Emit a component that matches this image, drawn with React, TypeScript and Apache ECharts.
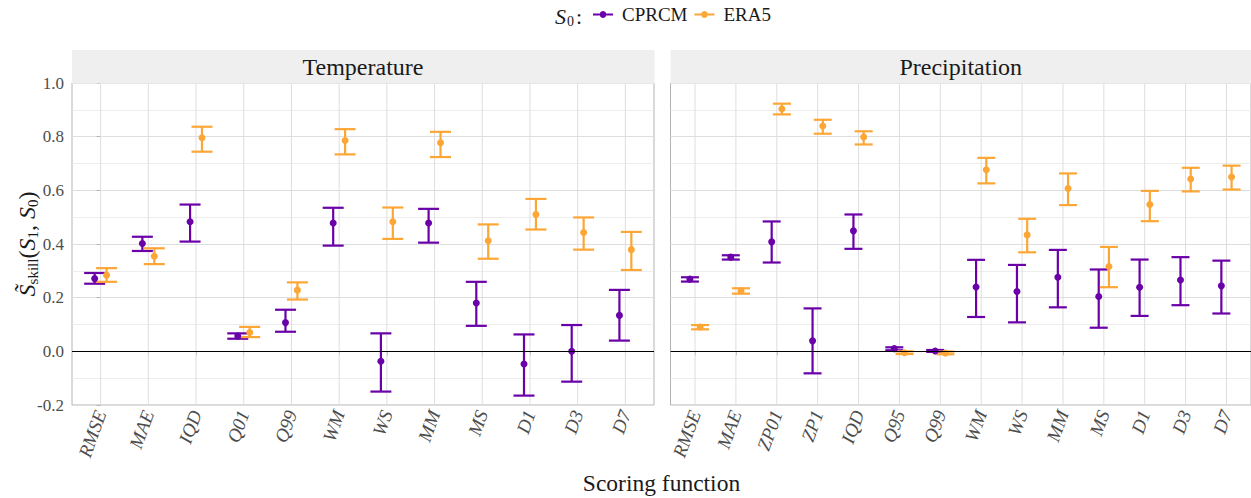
import React, { useEffect, useRef } from "react";
import * as echarts from "echarts";

const tempCats = ["RMSE", "MAE", "IQD", "Q01", "Q99", "WM", "WS", "MM", "MS", "D1", "D3", "D7"];
const precCats = ["RMSE", "MAE", "ZP01", "ZP1", "IQD", "Q95", "Q99", "WM", "WS", "MM", "MS", "D1", "D3", "D7"];

const tempCprcmMid = [0.271, 0.402, 0.483, 0.057, 0.107, 0.478, -0.037, 0.478, 0.18, -0.047, 0.0, 0.134];
const tempCprcmLo = [0.252, 0.374, 0.409, 0.047, 0.073, 0.394, -0.15, 0.405, 0.095, -0.165, -0.113, 0.04];
const tempCprcmHi = [0.292, 0.427, 0.547, 0.067, 0.155, 0.535, 0.067, 0.531, 0.259, 0.063, 0.098, 0.229];
const tempEra5Mid = [0.284, 0.354, 0.796, 0.07, 0.228, 0.786, 0.483, 0.777, 0.412, 0.51, 0.443, 0.379];
const tempEra5Lo = [0.259, 0.325, 0.744, 0.053, 0.193, 0.734, 0.419, 0.724, 0.345, 0.454, 0.379, 0.303];
const tempEra5Hi = [0.31, 0.384, 0.837, 0.091, 0.257, 0.828, 0.536, 0.818, 0.473, 0.568, 0.499, 0.445];

const precCprcmMid = [0.269, 0.351, 0.408, 0.039, 0.449, 0.01, 0.001, 0.24, 0.223, 0.276, 0.204, 0.239, 0.266, 0.244];
const precCprcmLo = [0.26, 0.342, 0.331, -0.082, 0.382, 0.004, -0.002, 0.128, 0.108, 0.164, 0.088, 0.132, 0.172, 0.141];
const precCprcmHi = [0.276, 0.358, 0.484, 0.16, 0.51, 0.015, 0.005, 0.341, 0.322, 0.378, 0.305, 0.342, 0.351, 0.338];
const precEra5Mid = [0.091, 0.225, 0.903, 0.84, 0.799, -0.005, -0.006, 0.677, 0.434, 0.607, 0.316, 0.547, 0.642, 0.65];
const precEra5Lo = [0.082, 0.215, 0.883, 0.811, 0.771, -0.01, -0.011, 0.626, 0.369, 0.545, 0.239, 0.485, 0.596, 0.603];
const precEra5Hi = [0.098, 0.235, 0.923, 0.863, 0.82, 0.0, -0.001, 0.721, 0.494, 0.663, 0.389, 0.598, 0.684, 0.692];

const panelTitles = ["Temperature", "Precipitation"];
const seriesNames = ["CPRCM", "ERA5"];
const yMin = -0.2;
const yMax = 1.0;
const yStep = 0.2;

const PURPLE = "#6A00A8";
const ORANGE = "#FCA636";
const FONT = "Liberation Serif";
const DODGE = 0.125;
const CAP = 0.22;

const LEGEND_ICON =
  "path://M0,3.1 L6.6,3.1 L6.6,4.9 L0,4.9 Z M13.4,3.1 L20,3.1 L20,4.9 L13.4,4.9 Z M10,0.6 A3.4,3.4 0 1 1 9.99,0.6 Z M24,0.6 L24,0.6 Z";

function errSeries(name: string, color: string, cats: string[], lo: number[], hi: number[], off: number, gi: number) {
  return {
    type: "custom",
    name,
    xAxisIndex: gi,
    yAxisIndex: gi,
    z: 3,
    itemStyle: { color },
    data: cats.map((_, i) => [i + off, lo[i], hi[i]]),
    encode: { x: 0, y: [1, 2] },
    renderItem: (_params: any, api: any) => {
      const x = api.value(0);
      const l = api.value(1);
      const h = api.value(2);
      const top = api.coord([x, h]);
      const bot = api.coord([x, l]);
      const tl = api.coord([x - CAP, h]);
      const tr = api.coord([x + CAP, h]);
      const bl = api.coord([x - CAP, l]);
      const br = api.coord([x + CAP, l]);
      const style = { stroke: color, lineWidth: 2.2 };
      return {
        type: "group",
        children: [
          { type: "line", shape: { x1: top[0], y1: top[1], x2: bot[0], y2: bot[1] }, style },
          { type: "line", shape: { x1: tl[0], y1: tl[1], x2: tr[0], y2: tr[1] }, style },
          { type: "line", shape: { x1: bl[0], y1: bl[1], x2: br[0], y2: br[1] }, style },
        ],
      };
    },
  };
}

function vGridSeries(cats: string[], gi: number) {
  return {
    type: "custom",
    name: "vgrid" + gi,
    xAxisIndex: gi,
    yAxisIndex: gi,
    z: 1,
    silent: true,
    data: cats.map((_, i) => [i, yMin]),
    encode: { x: 0, y: 1 },
    renderItem: (_params: any, api: any) => {
      const x = api.value(0);
      const a = api.coord([x, yMin]);
      const b = api.coord([x, yMax]);
      return {
        type: "line",
        shape: { x1: a[0], y1: a[1], x2: b[0], y2: b[1] },
        style: { stroke: "#dedede", lineWidth: 1 },
      };
    },
  };
}

function pointSeries(name: string, color: string, cats: string[], mid: number[], off: number, gi: number) {
  return {
    type: "scatter",
    name,
    xAxisIndex: gi,
    yAxisIndex: gi,
    z: 4,
    symbol: "circle",
    symbolSize: 7,
    itemStyle: { color, opacity: 1 },
    data: cats.map((_, i) => [i + off, mid[i]]),
  };
}

function zeroLine(gi: number) {
  return {
    type: "line",
    name: "zero" + gi,
    xAxisIndex: gi,
    yAxisIndex: gi,
    z: 2,
    data: [],
    markLine: {
      silent: true,
      symbol: ["none", "none"],
      label: { show: false },
      lineStyle: { color: "#000", width: 1, type: "solid" },
      data: [{ yAxis: 0 }],
    },
  };
}

function xAxisFor(cats: string[], gi: number) {
  const idx = cats.map((_, i) => i);
  return {
    type: "value",
    gridIndex: gi,
    min: -0.6,
    max: cats.length - 1 + 0.6,
    axisLine: { show: false },
    axisTick: { show: true, customValues: idx, length: 4, lineStyle: { color: "#b3b3b3", width: 1 } },
    axisLabel: {
      customValues: idx,
      formatter: (v: number) => cats[Math.round(v)] ?? "",
      rotate: 70,
      margin: 6,
      fontFamily: FONT,
      fontStyle: "italic",
      fontSize: 19,
      color: "#4d4d4d",
    },
    splitLine: { show: false },
  };
}

function yAxisFor(gi: number, showLabels: boolean) {
  return {
    type: "value",
    gridIndex: gi,
    min: yMin,
    max: yMax,
    interval: yStep,
    axisLine: { show: false },
    axisTick: { show: showLabels, length: 4, lineStyle: { color: "#b3b3b3", width: 1 } },
    axisLabel: {
      show: showLabels,
      formatter: (v: number) => v.toFixed(1),
      margin: 8,
      fontFamily: FONT,
      fontSize: 17,
      color: "#4d4d4d",
    },
    splitLine: { show: true, lineStyle: { color: "#dedede", width: 1 } },
    minorTick: { show: false, splitNumber: 2 },
    minorSplitLine: { show: true, lineStyle: { color: "#e9e9e9", width: 0.8 } },
  };
}

const GRIDS = [
  { left: 72, width: 582 },
  { left: 670.5, width: 580.5 },
];
const GRID_TOP = 83;
const GRID_H = 322;
const STRIP_TOP = 50;

export default function App() {
  const ref = useRef<HTMLDivElement>(null);
  useEffect(() => {
    if (!ref.current) return;
    const chart = echarts.init(ref.current, undefined, { renderer: "svg" });
    const strips: any[] = [];
    GRIDS.forEach((g, i) => {
      strips.push({
        type: "rect",
        z: 10,
        shape: { x: g.left, y: STRIP_TOP, width: g.width + 0.5, height: GRID_TOP - STRIP_TOP + 0.5 },
        style: { fill: "#efefef" },
      });
      strips.push({
        type: "text",
        z: 11,
        x: g.left + g.width / 2,
        y: (STRIP_TOP + GRID_TOP) / 2,
        style: {
          text: panelTitles[i],
          fontFamily: FONT,
          fontSize: 24,
          fill: "#1a1a1a",
          align: "center",
          verticalAlign: "middle",
        },
      });
    });
    const option: any = {
      animation: false,
      backgroundColor: "#fff",
      textStyle: { fontFamily: FONT },
      grid: GRIDS.map((g) => ({
        left: g.left,
        top: GRID_TOP,
        width: g.width,
        height: GRID_H,
        show: true,
        borderColor: "#b3b3b3",
        borderWidth: 1,
        backgroundColor: "#fff",
        containLabel: false,
        outerBoundsMode: "none",
      })),
      xAxis: [xAxisFor(tempCats, 0), xAxisFor(precCats, 1)],
      yAxis: [yAxisFor(0, true), yAxisFor(1, false)],
      legend: {
        left: 593,
        top: 5,
        padding: 0,
        itemWidth: 24,
        itemHeight: 8,
        itemGap: 7,
        selectedMode: false,
        data: [
          { name: seriesNames[0], icon: LEGEND_ICON },
          { name: seriesNames[1], icon: LEGEND_ICON },
        ],
        textStyle: { fontFamily: FONT, fontSize: 19, color: "#1a1a1a" },
      },
      graphic: [
        ...strips,
        {
          type: "text",
          x: 555,
          y: 16,
          style: {
            text: "{s|S}{b|0}{c|:}",
            align: "left",
            verticalAlign: "middle",
            rich: {
              s: { fontFamily: FONT, fontStyle: "italic", fontSize: 22, fill: "#1a1a1a" },
              b: { fontFamily: FONT, fontSize: 14, fill: "#1a1a1a", padding: [10, 0, 0, 1] },
              c: { fontFamily: FONT, fontSize: 22, fill: "#1a1a1a", padding: [0, 0, 0, 2] },
            },
          },
        },
        {
          type: "text",
          x: 27,
          y: GRID_TOP + GRID_H / 2,
          rotation: Math.PI / 2,
          style: {
            text: "{s|S\u0303}{b|skill}{n|(}{s|S}{b|1}{n|, }{s|S}{b|0}{n|)}",
            align: "center",
            verticalAlign: "middle",
            rich: {
              s: { fontFamily: FONT, fontStyle: "italic", fontSize: 24, fill: "#1a1a1a" },
              b: { fontFamily: FONT, fontSize: 15, fill: "#1a1a1a", padding: [11, 0, 0, 0] },
              n: { fontFamily: FONT, fontSize: 24, fill: "#1a1a1a" },
            },
          },
        },
        {
          type: "text",
          x: (GRIDS[0].left + GRIDS[1].left + GRIDS[1].width) / 2,
          y: 483,
          style: {
            text: "Scoring function",
            fontFamily: FONT,
            fontSize: 23.5,
            fill: "#1a1a1a",
            align: "center",
            verticalAlign: "middle",
          },
        },
      ],
      series: [
        vGridSeries(tempCats, 0),
        vGridSeries(precCats, 1),
        zeroLine(0),
        zeroLine(1),
        errSeries(seriesNames[0], PURPLE, tempCats, tempCprcmLo, tempCprcmHi, -DODGE, 0),
        errSeries(seriesNames[1], ORANGE, tempCats, tempEra5Lo, tempEra5Hi, DODGE, 0),
        errSeries(seriesNames[0], PURPLE, precCats, precCprcmLo, precCprcmHi, -DODGE, 1),
        errSeries(seriesNames[1], ORANGE, precCats, precEra5Lo, precEra5Hi, DODGE, 1),
        pointSeries(seriesNames[0], PURPLE, tempCats, tempCprcmMid, -DODGE, 0),
        pointSeries(seriesNames[1], ORANGE, tempCats, tempEra5Mid, DODGE, 0),
        pointSeries(seriesNames[0], PURPLE, precCats, precCprcmMid, -DODGE, 1),
        pointSeries(seriesNames[1], ORANGE, precCats, precEra5Mid, DODGE, 1),
      ],
    };
    chart.setOption(option);
    return () => chart.dispose();
  }, []);
  return (
    <div
      ref={ref}
      style={{ position: "absolute", left: 0, top: 0, width: 1251, height: 498 }}
    />
  );
}
